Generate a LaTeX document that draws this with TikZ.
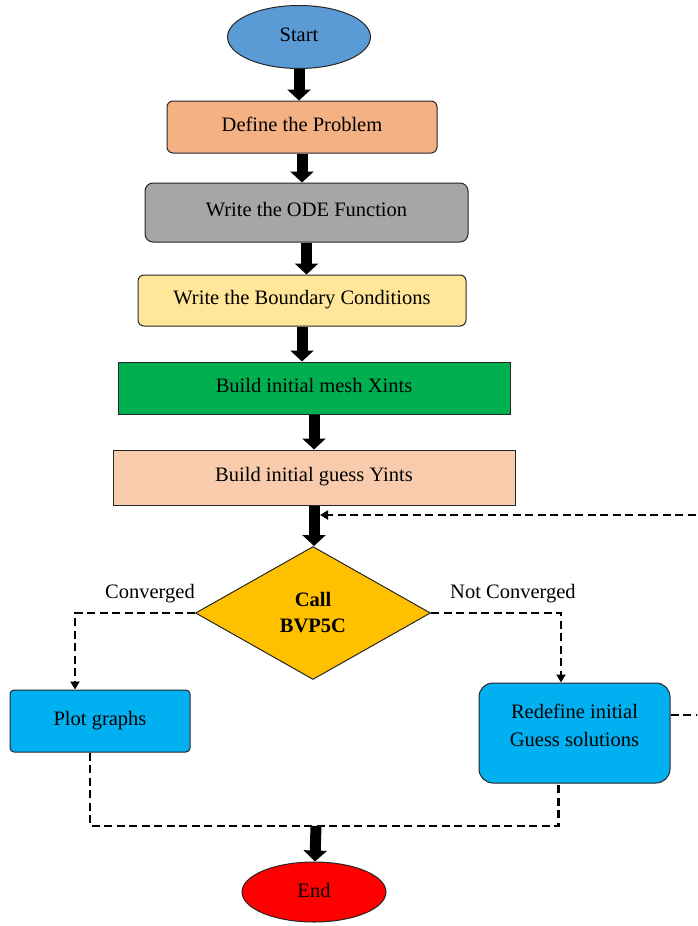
\documentclass[tikz,border=0pt]{standalone}
\usepackage{fontspec}
\setmainfont{Liberation Serif}
\usetikzlibrary{shapes.geometric,arrows.meta,positioning}

\definecolor{startblue}{HTML}{5B9BD5}
\definecolor{defcol}{HTML}{F4B183}
\definecolor{odecol}{HTML}{A6A6A6}
\definecolor{bccol}{HTML}{FFE699}
\definecolor{meshcol}{HTML}{00B050}
\definecolor{guesscol}{HTML}{F8CBAD}
\definecolor{deccol}{HTML}{FFC000}
\definecolor{skyblue}{HTML}{00B0F0}

\begin{document}
\begin{tikzpicture}[x=1pt,y=-1pt,on grid,
  every node/.style={font=\fontsize{20.5}{28}\selectfont},
  block/.style={rectangle,draw=black!85,line width=1pt,rounded corners=6pt,inner sep=0pt},
  box/.style={block,text height=14pt,text depth=6pt},
  term/.style={ellipse,draw=black!85,line width=1pt,inner sep=0pt,text depth=4pt},
  flow/.style={line width=11pt,-{Triangle[length=11pt,width=23pt]}},
  dashline/.style={line width=2.5pt,dash pattern=on 8pt off 4.5pt},
  dashflow/.style={dashline,-{Triangle[length=8pt,width=9pt]}}]
   \useasboundingbox (0,0) rectangle (697,926);
   \clip (0,0) rectangle (697,926);
   % main column
   \node[term,fill=startblue,minimum width=143pt,minimum height=63pt] (start) at (299,37) {Start};
   \node[box,fill=defcol,minimum width=270pt,minimum height=52pt] (define) [below=90pt of start,xshift=3pt] {Define the Problem};
   \node[box,fill=odecol,rounded corners=8pt,minimum width=323pt,minimum height=59pt] (ode) [below=85.5pt of define,xshift=4.5pt] {Write the ODE Function};
   \node[box,fill=bccol,minimum width=328pt,minimum height=51pt] (bc) [below=88pt of ode,xshift=-4.5pt] {Write the Boundary Conditions};
   \node[box,sharp corners,fill=meshcol,minimum width=392pt,minimum height=52pt] (mesh) [below=87.5pt of bc,xshift=12pt] {Build initial mesh Xints};
   \node[box,sharp corners,fill=guesscol,minimum width=402pt,minimum height=55pt] (guess) [below=89.5pt of mesh] {Build initial guess Yints};
   \node[diamond,draw=black!85,line width=1pt,fill=deccol,inner sep=0pt,minimum width=235pt,minimum height=133pt,align=center,
         font=\fontsize{20.5}{26}\selectfont\bfseries] (dec) [below=135.5pt of guess,xshift=-1pt] {Call\\BVP5C};
   % branches
   \node[box,fill=skyblue,rounded corners=4pt,minimum width=180pt,minimum height=62pt] (plot) at (100,721) {Plot graphs};
   \node[block,fill=skyblue,rounded corners=14pt,minimum width=191pt,minimum height=100pt,align=center,text depth=15pt] (redef) at (574.5,733) {Redefine initial\\Guess solutions};
   \node[term,fill=red,minimum width=144pt,minimum height=60pt] (end) at (314,892) {End};
   \node[anchor=east,inner xsep=0pt] (conv) at ([yshift=19pt]dec.west) {Converged};
   \node[anchor=west,inner xsep=0pt] (nconv) at ([xshift=19pt,yshift=19pt]dec.east) {Not Converged};
   \coordinate (back) at (320,515);
   \coordinate (merge) at (316,826);

   \draw[flow] (start) -- (start |- define.north);
   \draw[flow] (define.south) -- (define.south |- ode.north);
   \draw[flow] (ode.south) -- (ode.south |- bc.north);
   \draw[flow] (bc.south) -- (bc.south |- mesh.north);
   \draw[flow] (mesh) -- (guess);
   \draw[flow] (guess.south) -- (guess.south |- dec.north);

   \draw[dashflow] (dec.west) -| ([xshift=-25pt]plot.north);
   \draw[dashflow] (dec.east) -| ([xshift=-13.5pt]redef.north);
   \draw[dashflow] ([yshift=18pt]redef.east) -- ++(50,0) |- (back);
   \draw[dashline] ([xshift=-10pt]plot.south) |- (merge) -| ([xshift=-16pt]redef.south);
   \draw[flow] (merge) -- (end);
\end{tikzpicture}
\end{document}
